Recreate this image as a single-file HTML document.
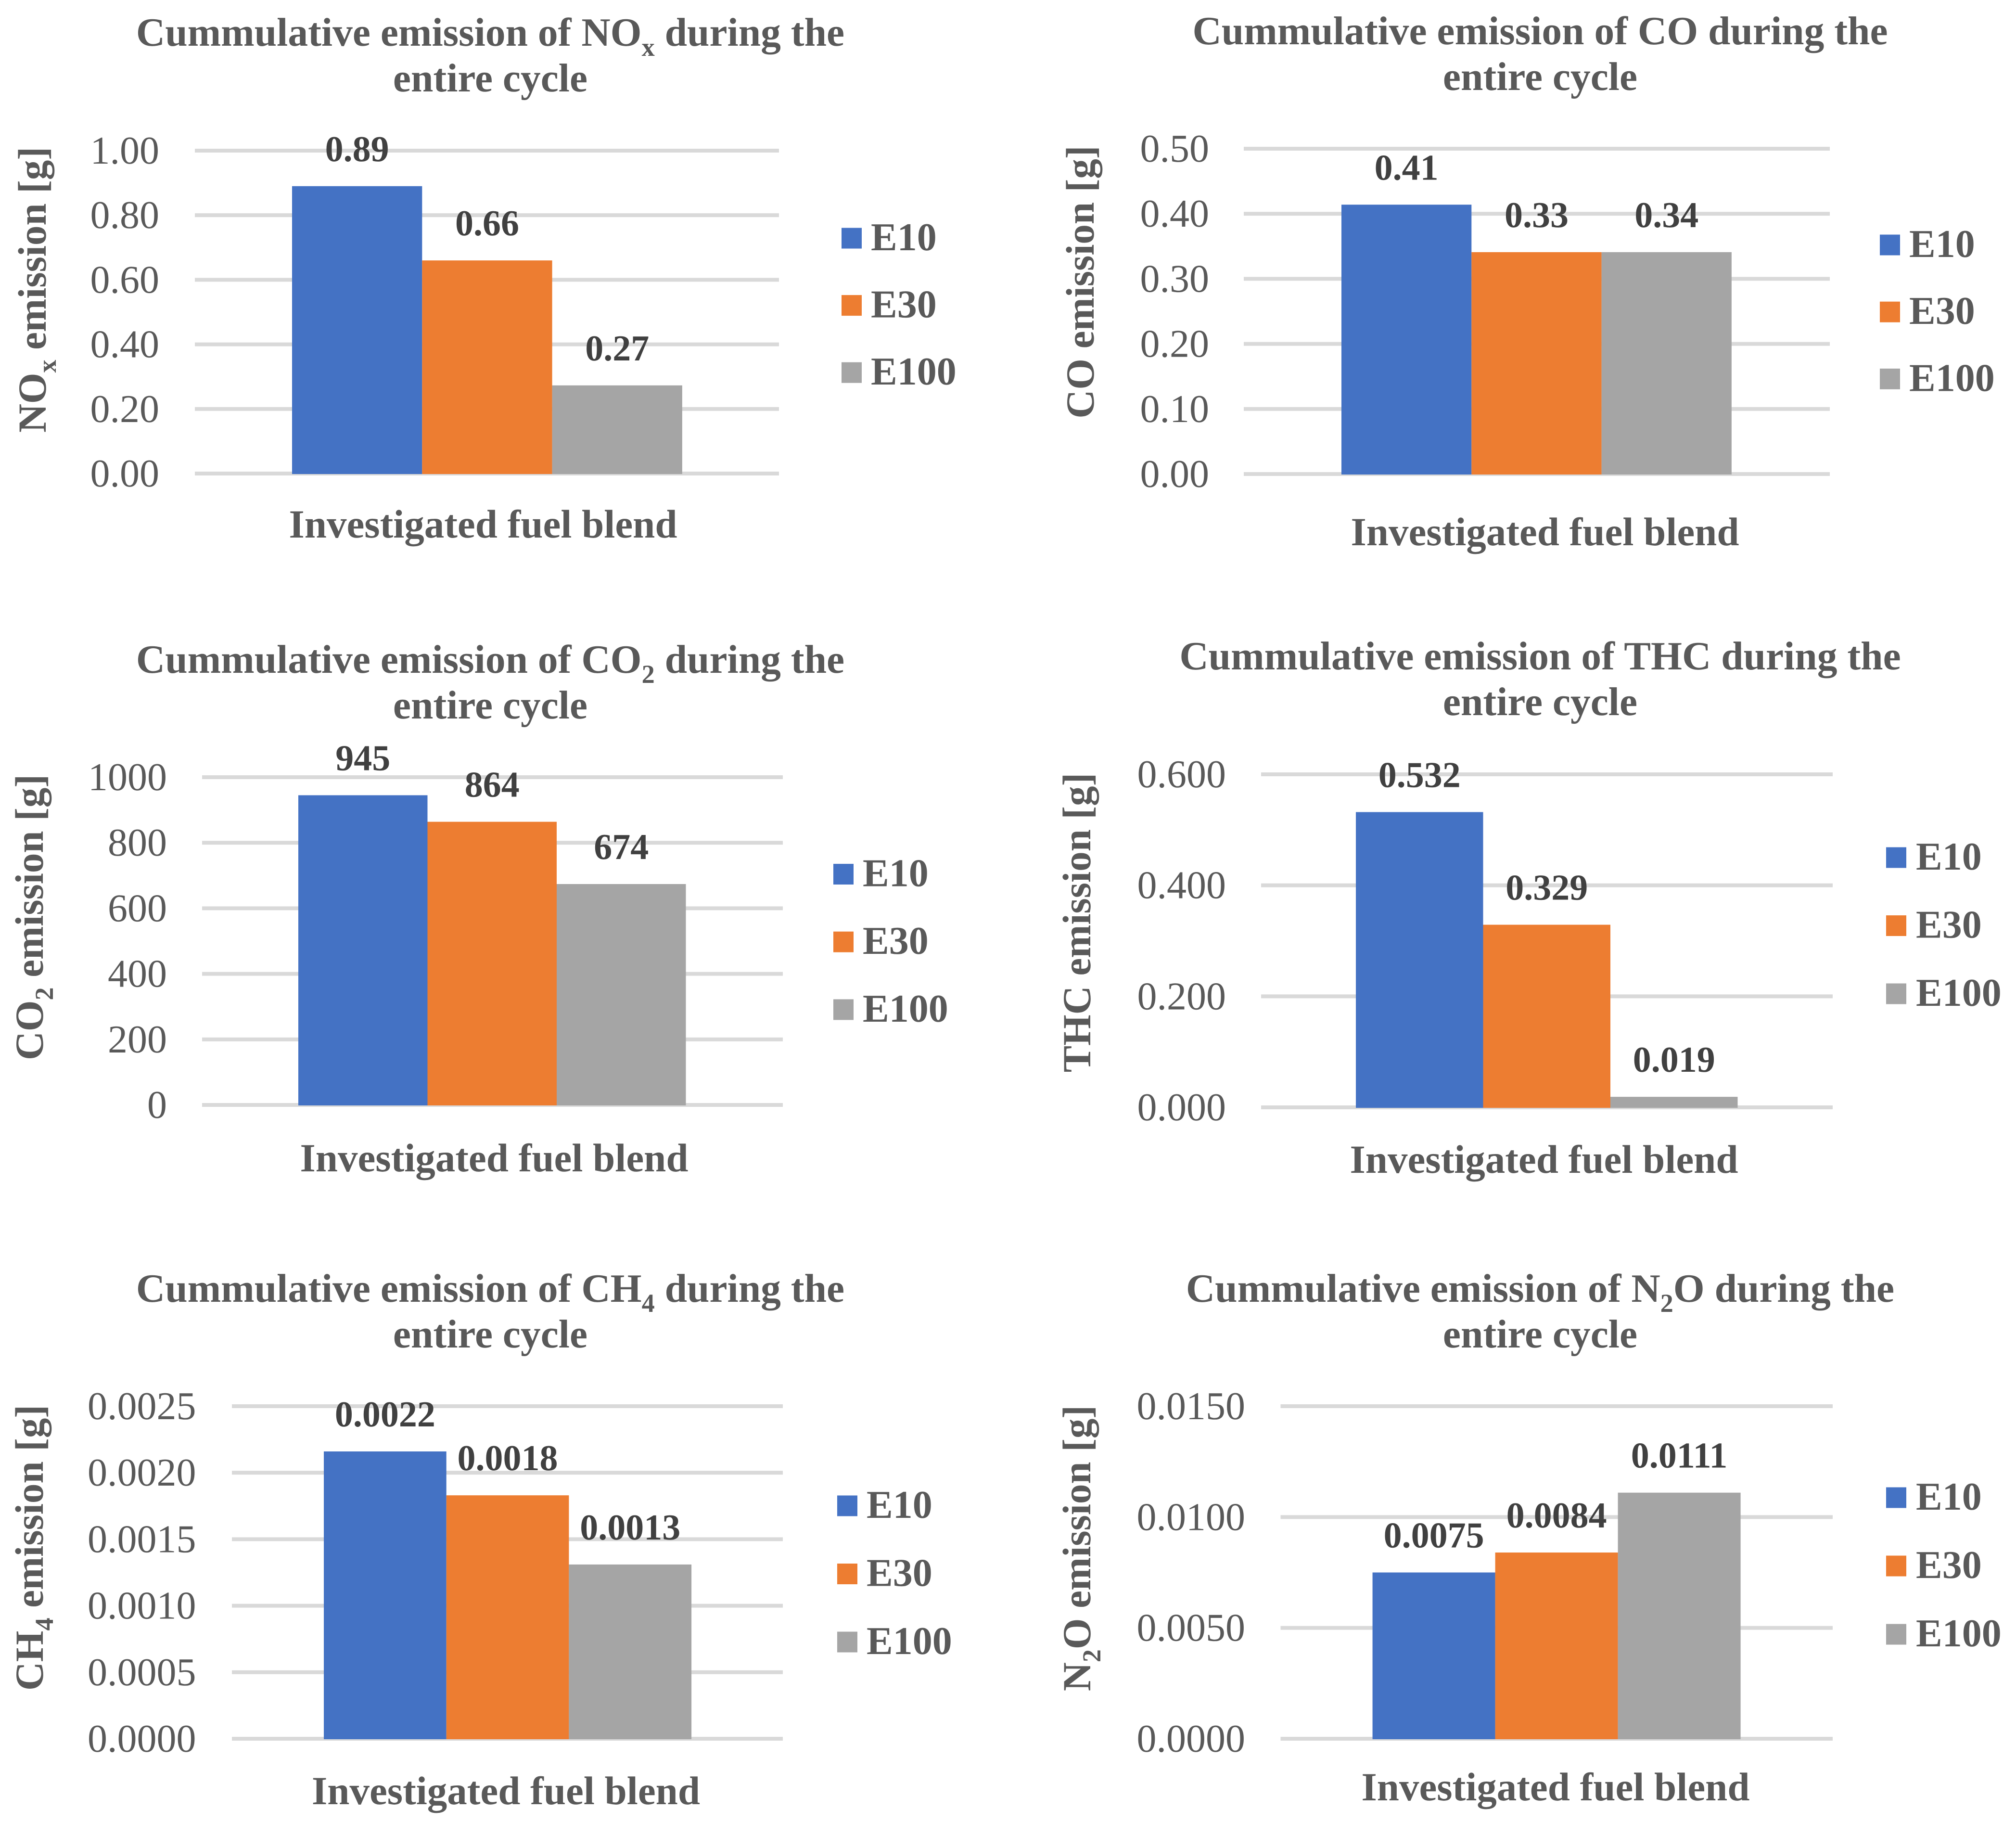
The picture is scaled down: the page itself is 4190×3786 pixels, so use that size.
<!DOCTYPE html>
<html lang="en">
<head>
<meta charset="utf-8">
<title>Cummulative emissions by fuel blend</title>
<style>
html,body{margin:0;padding:0;background:#fff;width:4190px;height:3786px;overflow:hidden}
svg{display:block}
text{font-family:"Liberation Serif","Times New Roman",serif;text-rendering:geometricPrecision}
</style>
</head>
<body>
<svg id="figure" xmlns="http://www.w3.org/2000/svg" width="4190" height="3786" viewBox="0 0 4190 3786">
<rect x="0" y="0" width="4190" height="3786" fill="#ffffff"/>
</svg>
<script>
// ---- data ----
const seriesNames = ['E10', 'E30', 'E100'];

const noxValues = [0.89, 0.66, 0.273];
const noxPrinted = ['0.89', '0.66', '0.27'];
const noxTicks = ['0.00', '0.20', '0.40', '0.60', '0.80', '1.00'];

const coValues = [0.414, 0.341, 0.341];
const coPrinted = ['0.41', '0.33', '0.34'];
const coTicks = ['0.00', '0.10', '0.20', '0.30', '0.40', '0.50'];

const co2Values = [945, 864, 674];
const co2Printed = ['945', '864', '674'];
const co2Ticks = ['0', '200', '400', '600', '800', '1000'];

const thcValues = [0.532, 0.329, 0.019];
const thcPrinted = ['0.532', '0.329', '0.019'];
const thcTicks = ['0.000', '0.200', '0.400', '0.600'];

const ch4Values = [0.00216, 0.00183, 0.00131];
const ch4Printed = ['0.0022', '0.0018', '0.0013'];
const ch4Ticks = ['0.0000', '0.0005', '0.0010', '0.0015', '0.0020', '0.0025'];

const n2oValues = [0.0075, 0.0084, 0.0111];
const n2oPrinted = ['0.0075', '0.0084', '0.0111'];
const n2oTicks = ['0.0000', '0.0050', '0.0100', '0.0150'];

// ---- layout (formula text uses _ to mark a subscript character) ----
const charts = [
  {key:'nox', formula:'NO_x', values:noxValues, printed:noxPrinted, ticks:noxTicks,
   left:405, right:1619, top:313, bottom:984, barLeft:607, barWidth:270.3, tickRight:331,
   yTitleX:95, yTitleY:602, xTitleX:1004, xTitleY:1117, titleX:1019, titleY:95,
   legendX:1749, legendTextX:1810, legendY:495, legendStep:139.6},
  {key:'co', formula:'CO', values:coValues, printed:coPrinted, ticks:coTicks,
   left:2585, right:3803, top:309, bottom:985, barLeft:2788, barWidth:270.3, tickRight:2513,
   yTitleX:2273, yTitleY:586, xTitleX:3211, xTitleY:1133, titleX:3201, titleY:92,
   legendX:3907, legendTextX:3968, legendY:509, legendStep:139.2},
  {key:'co2', formula:'CO_2', values:co2Values, printed:co2Printed, ticks:co2Ticks,
   left:420, right:1627, top:1615, bottom:2296, barLeft:620, barWidth:268.5, tickRight:347,
   yTitleX:89, yTitleY:1906, xTitleX:1027, xTitleY:2434, titleX:1019, titleY:1398,
   legendX:1732, legendTextX:1793, legendY:1816.5, legendStep:140.7},
  {key:'thc', formula:'THC', values:thcValues, printed:thcPrinted, ticks:thcTicks,
   left:2621, right:3809, top:1609, bottom:2301, barLeft:2818, barWidth:264.5, tickRight:2548,
   yTitleX:2266, yTitleY:1917, xTitleX:3209, xTitleY:2437, titleX:3201, titleY:1391,
   legendX:3920, legendTextX:3982, legendY:1782, legendStep:141.5},
  {key:'ch4', formula:'CH_4', values:ch4Values, printed:ch4Printed, ticks:ch4Ticks,
   left:482, right:1627, top:2922, bottom:3613, barLeft:673, barWidth:254.7, tickRight:407.5,
   yTitleX:89, yTitleY:3216, xTitleX:1051.5, xTitleY:3749, titleX:1019, titleY:2705,
   legendX:1740, legendTextX:1801, legendY:3129, legendStep:141.5},
  {key:'n2o', formula:'N_2O', values:n2oValues, printed:n2oPrinted, ticks:n2oTicks,
   left:2661.5, right:3809, top:2922, bottom:3613, barLeft:2852.6, barWidth:255, tickRight:2588,
   yTitleX:2266, yTitleY:3217, xTitleX:3233, xTitleY:3741, titleX:3201, titleY:2705,
   legendX:3920, legendTextX:3982, legendY:3112, legendStep:142}
];

const barColors = ['#4472c4', '#ed7d31', '#a5a5a5'];
const SVG_NS = 'http://www.w3.org/2000/svg';
const TEXT_COLOR = '#595959';
const LABEL_COLOR = '#404040';
const FONT_SIZE = 83;
const TITLE_SIZE = 83.5;
const TICK_SIZE = 82;
const LABEL_SIZE = 76;
const figure = document.getElementById('figure');

function make(tag, parent, attrs) {
  const el = document.createElementNS(SVG_NS, tag);
  for (const k in attrs) el.setAttribute(k, attrs[k]);
  parent.appendChild(el);
  return el;
}

// Writes "prefix + formula + suffix" into a text node with real subscripts.
function writeRich(textEl, prefix, formula, suffix, size) {
  const subSize = size * 0.65;
  const drop = size * 0.25;
  const parts = [];
  for (let i = 0; i < formula.length; i++) {
    if (formula[i] === '_') { parts.push({t: formula[i + 1], sub: true}); i++; }
    else {
      const last = parts[parts.length - 1];
      if (last && !last.sub) last.t += formula[i];
      else parts.push({t: formula[i], sub: false});
    }
  }
  textEl.appendChild(document.createTextNode(prefix));
  let shifted = false;
  parts.forEach(function (p) {
    const span = make('tspan', textEl, {});
    span.textContent = p.t;
    if (p.sub) {
      span.setAttribute('font-size', subSize);
      span.setAttribute('dy', drop);
      shifted = true;
    } else if (shifted) {
      span.setAttribute('dy', -drop);
      shifted = false;
    }
  });
  const tail = make('tspan', textEl, {});
  tail.textContent = suffix;
  if (shifted) tail.setAttribute('dy', -drop);
}

function drawChart(c) {
  const maxTick = Math.max.apply(null, c.ticks.map(Number));
  const yScale = function (v) { return c.bottom - (v / maxTick) * (c.bottom - c.top); };
  const xBar = function (i) { return c.barLeft + i * c.barWidth; };

  const g = make('g', figure, {});
  
  

  // chart title
  const t1 = make('text', g, {x: c.titleX, y: c.titleY, 'text-anchor': 'middle', 'font-weight': 'bold', 'font-size': TITLE_SIZE, fill: TEXT_COLOR});
  
  
  writeRich(t1, 'Cummulative emission of ', c.formula, ' during the', TITLE_SIZE);
  const t2 = make('text', g, {x: c.titleX, y: c.titleY + 95, 'text-anchor': 'middle', 'font-weight': 'bold', 'font-size': TITLE_SIZE, fill: TEXT_COLOR});
  
  
  t2.textContent = 'entire cycle';

  // gridlines and tick labels
  c.ticks.forEach(function (tick) {
    const y = yScale(Number(tick));
    const grid = make('rect', g, {x: c.left, y: y - 4, width: c.right - c.left, height: 8, fill: '#d9d9d9'});
    
    
    const lab = make('text', g, {x: c.tickRight, y: y + 27, 'text-anchor': 'end', 'font-size': TICK_SIZE, fill: TEXT_COLOR});
    
    
    lab.textContent = tick;
  });

  // bars
  c.values.forEach(function (v, i) {
    const y = yScale(v);
    const bar = make('rect', g, {x: xBar(i), y: y, width: c.barWidth, height: c.bottom - y + 1, fill: barColors[i]});
    
    
  });

  // data labels (above bars so they sit over gridlines)
  c.values.forEach(function (v, i) {
    const lab = make('text', g, {x: xBar(i) + c.barWidth / 2, y: yScale(v) - 52, 'text-anchor': 'middle', 'font-weight': 'bold', 'font-size': LABEL_SIZE, fill: LABEL_COLOR});
    
    
    lab.textContent = c.printed[i];
  });

  // axis titles
  const yt = make('text', g, {transform: 'translate(' + c.yTitleX + ' ' + c.yTitleY + ') rotate(-90)', 'text-anchor': 'middle', 'font-weight': 'bold', 'font-size': FONT_SIZE, fill: TEXT_COLOR});
  
  
  writeRich(yt, '', c.formula, ' emission [g]', FONT_SIZE);

  const xt = make('text', g, {x: c.xTitleX, y: c.xTitleY, 'text-anchor': 'middle', 'font-weight': 'bold', 'font-size': FONT_SIZE, fill: TEXT_COLOR});
  
  
  xt.textContent = 'Investigated fuel blend';

  // legend
  seriesNames.forEach(function (name, i) {
    const cy = c.legendY + i * c.legendStep;
    const sw = make('rect', g, {x: c.legendX, y: cy - 21.5, width: 42, height: 43, fill: barColors[i]});
    
    
    const lt = make('text', g, {x: c.legendTextX, y: cy + 25, 'font-weight': 'bold', 'font-size': TICK_SIZE, fill: TEXT_COLOR});
    
    
    lt.textContent = name;
  });
}

charts.forEach(drawChart);
</script>
</body>
</html>
